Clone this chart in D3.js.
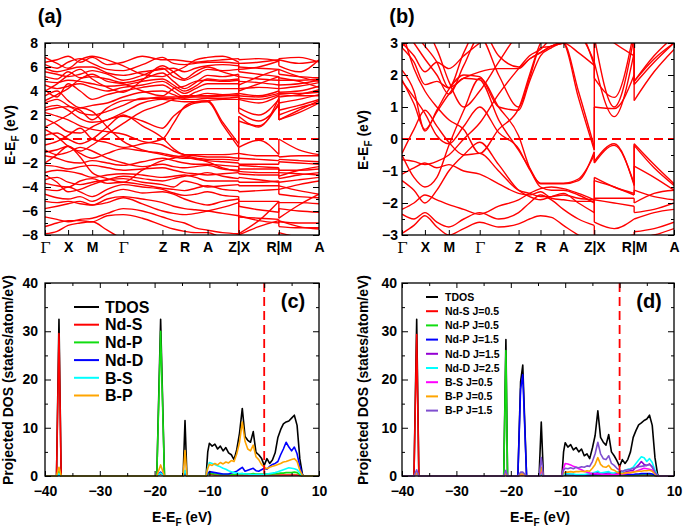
<!DOCTYPE html>
<html>
<head>
<meta charset="utf-8">
<script src="https://cdn.jsdelivr.net/npm/d3@7"></script>
<style>
  body { margin: 0; background: #fff; }
</style>
</head>
<body>
<script>
// ---- band structure: k-path (distance along path) and tick labels ----
const kPath = [0, 12, 23, 35, 47, 62, 78, 97, 117, 128, 139, 150, 162, 177, 193, 193, 213, 233, 233, 253, 273];
const kTickPos = [0, 23, 47, 78, 117, 139, 162, 193, 233, 273];
const kTickLabels = ['Γ', 'X', 'M', 'Γ', 'Z', 'R', 'A', 'Z|X', 'R|M', 'A'];

// energies (eV) of each band at the kPath nodes, panel (a)
const bandsA = [
  [6.4,6.6,6.9,6.4,6.8,6.2,6.4,6.9,6.6,6.6,6.5,6.4,6.5,6.6,6.7, 6.6,6.7,6.5,6.6,6.3,6.5],
  [6.2,5.9,6.4,6.7,6.3,5.8,5.7,6.2,6.8,6.3,6.2,6.3,6.4,6.4,6.3, 6.3,6.4,6.6,6.1,5.6,6.6],
  [5.9,5.6,5.8,6.0,6.0,5.5,5.3,5.6,5.8,5.9,5.6,5.9,6.1,6.2,6.1, 6.0,5.9,5.8,5.4,5.2,5.1],
  [5.6,5.4,5.2,5.4,5.7,5.4,4.9,5.3,5.9,5.2,4.9,5.3,5.8,5.7,5.8, 5.6,5.4,5.2,4.9,4.9,5.0],
  [5.2,5.0,5.6,5.1,5.2,5.0,4.7,5.0,5.5,4.8,4.2,4.7,5.3,5.2,5.4, 5.2,5.0,4.9,4.5,4.6,4.9],
  [4.8,4.7,4.9,4.8,4.6,4.4,4.5,4.8,5.0,4.5,4.0,4.4,5.0,4.9,5.0, 4.8,4.7,4.5,4.2,4.4,4.7],
  [4.5,4.2,4.4,4.6,4.3,4.0,4.3,4.5,4.8,4.3,3.8,4.2,4.6,4.6,4.6, 4.2,4.3,4.2,3.9,4.0,4.4],
  [4.1,3.5,4.6,4.0,3.3,3.7,4.0,4.3,4.5,4.0,3.5,3.9,4.2,4.2,4.2, 3.8,3.6,4.0,3.5,3.7,4.1],
  [3.6,4.0,3.2,2.6,2.8,3.0,3.5,3.9,4.0,3.7,3.4,3.6,3.8,3.7,3.8, 3.3,3.0,3.6,3.0,3.3,3.7],
  [3.0,3.3,2.8,2.2,2.0,2.3,2.8,3.4,3.4,3.4,3.3,3.3,3.4,3.4,3.5, 2.6,2.0,3.3,2.4,2.8,3.3],
  [2.6,2.8,2.4,1.7,1.4,1.6,2.2,3.0,3.3,3.2,3.1,3.1,3.2,3.3,3.3, 2.2,1.5,2.8,1.6,2.2,3.0],
  [6.8,6.3,5.9,6.6,6.9,6.6,6.1,5.4,5.2,5.6,6.0,6.6,6.8,6.9,6.4, 5.8,6.0,6.5,6.7,6.8,6.4],
  [4.0,4.6,5.3,5.8,5.0,4.3,3.9,4.9,6.1,5.6,5.0,5.6,6.0,5.6,5.2, 4.5,5.2,5.8,5.8,5.2,4.8],
  [3.2,3.7,4.2,5.0,5.4,4.8,4.6,4.0,3.6,4.2,4.4,4.8,4.9,4.8,4.9, 4.0,4.6,5.2,5.1,4.8,4.3],
  [2.4,2.6,2.7,2.4,1.6,2.6,3.2,3.3,3.5,3.5,3.6,3.6,3.6,3.6,3.6, 3.4,3.3,3.7,3.7,3.6,3.6],
  [0.8,0.2,-0.6,-1.0,-0.5,0.4,1.3,2.3,2.9,3.3,3.5,3.5,3.5,3.6,3.7, 3.6,3.5,3.8,3.8,3.8,3.9],
  [1.0,1.5,2.0,2.6,2.3,1.0,-0.2,-0.9,-1.3,-1.5,-1.6,-1.6,-1.7,-1.7,-1.8, -1.6,-1.7,-1.8,-1.7,-1.8,-1.9],
  [-0.5,-0.2,0.3,0.9,0.0,-0.3,-0.7,-0.4,0.0,1.3,2.7,3.1,3.2,1.4,-0.4, 1.9,1.0,3.4,1.6,2.4,3.2],
  [0.3,0.5,0.0,-0.4,0.0,1.0,2.0,1.1,0.1,-0.8,-1.3,-1.3,-1.3,-1.3,-1.2, -0.7,-0.1,-1.3,0.0,-0.9,-1.3],
  [1.7,1.2,0.6,0.5,1.0,1.6,1.9,1.5,0.9,1.9,2.6,3.0,3.1,1.2,-0.7, 1.5,1.1,3.0,2.0,2.6,3.0],
  [2.2,1.9,1.6,1.1,0.8,0.6,0.4,-0.2,-0.5,-1.0,-1.3,-1.4,-1.5,-1.5,-1.6, -1.2,-1.4,-1.4,-1.5,-1.4,-1.4],
  [-1.1,-0.9,-0.6,-1.2,-1.6,-1.2,-0.8,-1.0,-1.2,-1.4,-1.5,-1.7,-1.8,-1.9,-2.0, -2.1,-2.1,-2.1,-1.9,-2.0,-2.1],
  [-0.9,-1.3,-1.1,-0.7,-1.0,-1.6,-2.0,-2.3,-2.1,-2.3,-2.4,-2.3,-2.2,-2.5,-2.6, -2.7,-2.8,-2.8,-2.8,-2.9,-3.0],
  [-1.4,-1.6,-1.9,-2.0,-1.8,-2.0,-2.2,-1.9,-1.6,-1.8,-2.0,-2.1,-2.1,-2.2,-2.3, -2.5,-2.5,-2.5,-2.6,-2.6,-2.5],
  [-2.0,-1.3,-0.6,-1.5,-2.8,-3.3,-3.6,-2.6,-1.8,-1.6,-1.4,-1.6,-1.9,-2.4,-2.7, -2.2,-2.3,-2.4,-3.1,-2.6,-2.3],
  [-2.2,-2.3,-2.5,-2.3,-2.2,-2.4,-2.6,-2.5,-2.4,-2.6,-2.8,-2.9,-3.0,-2.9,-2.8, -2.9,-3.0,-3.0,-3.3,-3.0,-2.8],
  [-2.8,-2.6,-2.7,-2.9,-3.2,-3.0,-2.9,-3.0,-3.2,-3.1,-3.0,-3.2,-3.5,-3.5,-3.5, -3.6,-3.6,-3.5,-3.6,-3.4,-3.2],
  [-3.0,-3.6,-4.4,-4.2,-3.8,-3.4,-3.1,-3.3,-3.5,-3.3,-3.1,-3.0,-2.8,-3.1,-3.3, -3.2,-3.4,-3.6,-4.2,-3.8,-3.5],
  [-3.4,-3.2,-3.6,-3.8,-3.6,-3.4,-3.3,-3.6,-3.8,-4.0,-3.5,-3.7,-4.0,-3.9,-3.8, -3.9,-3.9,-3.9,-3.9,-4.3,-4.6],
  [-3.7,-3.9,-4.0,-3.5,-3.3,-3.7,-3.6,-3.8,-4.1,-4.2,-4.3,-4.1,-3.9,-4.2,-4.3, -4.4,-4.3,-4.2,-4.6,-4.8,-4.9],
  [-4.2,-4.3,-4.0,-4.4,-4.8,-4.2,-3.8,-4.0,-4.2,-4.5,-4.7,-4.6,-4.4,-4.7,-4.8, -5.2,-5.2,-5.2,-5.3,-5.3,-5.4],
  [-4.6,-4.9,-5.0,-4.8,-5.2,-4.6,-4.2,-4.5,-4.4,-4.6,-5.0,-5.3,-5.5,-5.2,-5.0, -5.6,-5.9,-6.1,-5.8,-6.0,-6.1],
  [-5.8,-5.6,-5.4,-5.2,-5.5,-5.0,-4.8,-5.0,-5.3,-5.6,-5.8,-5.9,-6.0,-6.2,-6.4, -6.4,-6.8,-7.0,-6.9,-7.0,-7.0],
  [-5.2,-5.3,-5.2,-5.4,-5.5,-5.3,-4.9,-5.4,-6.0,-6.2,-6.3,-6.2,-6.0,-5.7,-5.3, -7.9,-6.8,-5.2,-6.6,-5.5,-4.6],
  [-6.5,-6.7,-6.9,-6.7,-6.6,-6.2,-5.8,-6.0,-6.5,-6.8,-7.0,-7.4,-7.6,-7.8,-7.9, -8.0,-7.3,-6.8,-7.3,-7.4,-7.4],
  [-7.3,-7.0,-6.8,-6.8,-6.9,-6.4,-6.3,-6.6,-7.2,-7.5,-7.7,-7.8,-7.8,-8.2,-8.0, -6.5,-6.6,-6.7,-6.8,-7.3,-7.5],
  [-7.9,-7.7,-7.2,-7.0,-6.9,-7.6,-8.3,-8.5,-8.5,-8.5,-8.5,-8.5,-8.5,-8.5,-8.5, -8.5,-8.5,-8.5,-7.8,-8.2,-8.5]
];

// panel (b), with spin-orbit coupling, zoomed to +-3 eV
const bandsB = [
  [3.0,2.6,2.1,2.4,2.2,2.6,3.0,3.4,3.6,3.5,3.5,3.3,3.2,3.4,3.5, 3.2,3.1,3.2,3.3,3.5,3.6],
  [2.85,2.4,1.7,1.8,1.6,1.9,2.1,2.2,2.2,2.5,2.7,2.9,3.0,2.7,2.3, 3.2,1.0,3.2,1.8,2.5,3.0],
  [2.15,1.5,0.25,0.9,1.55,2.0,1.95,1.0,0.9,1.8,2.6,2.85,3.0,1.5,-0.25, 2.4,0.7,2.7,1.7,2.4,3.0],
  [1.85,1.1,0.3,0.85,1.4,1.9,1.85,0.6,-0.35,-0.9,-1.4,-1.4,-1.4,-1.3,-0.4, -0.7,-0.15,-1.45,-0.15,-0.8,-1.4],
  [1.8,1.3,0.8,0.1,-0.15,0.4,1.0,0.2,-0.3,-0.95,-1.38,-1.38,-1.38,-1.25,-0.5, -0.75,-0.2,-1.4,-0.2,-0.9,-1.45],
  [-0.45,0.3,0.9,0.4,-0.1,-0.5,-0.45,-1.0,-1.6,-1.7,-1.8,-1.8,-1.75,-1.85,-1.9, -1.2,-1.5,-1.7,-0.85,-1.2,-1.6],
  [-0.65,-0.7,-0.8,-0.7,-0.5,0.0,0.5,1.4,2.2,2.6,2.8,3.1,3.0,1.3,-0.35, 1.0,0.95,2.0,1.8,2.6,3.2],
  [-1.1,-0.9,-0.75,-0.9,-0.8,-1.0,-1.1,-1.4,-1.7,-1.75,-1.65,-1.85,-1.9,-1.95,-1.95, -1.85,-1.85,-1.85,-2.0,-1.7,-1.6],
  [-1.3,-1.6,-2.0,-1.6,-1.0,-0.5,-0.1,-0.8,-1.6,-1.8,-1.9,-1.8,-1.7,-2.0,-2.3, -1.3,-1.5,-1.75,-1.6,-1.8,-1.9],
  [-2.2,-2.0,-1.75,-1.9,-2.05,-2.2,-2.35,-2.1,-1.9,-1.7,-1.55,-1.5,-1.55,-1.7,-1.9, -2.6,-2.8,-2.5,-2.5,-2.3,-2.2],
  [-2.35,-2.5,-2.3,-2.6,-2.75,-2.5,-2.3,-2.5,-2.3,-2.0,-1.75,-1.9,-2.2,-2.5,-2.7, -3.2,-3.1,-3.0,-2.9,-2.8,-2.6],
  [-2.95,-2.7,-2.4,-2.75,-3.0,-2.8,-2.6,-2.75,-2.65,-2.5,-2.4,-2.45,-2.7,-3.0,-3.2, -3.5,-3.4,-3.3,-3.1,-3.0,-2.8],
  [3.5,3.0,2.5,2.0,1.4,2.3,3.2,2.0,1.0,1.9,2.85,2.9,3.1,3.3,2.3, 1.9,1.3,3.4,1.2,2.1,2.8],
  [3.6,3.3,2.9,2.4,1.6,2.7,3.5,2.6,2.25,2.5,2.7,2.9,3.0,3.2,2.4, 3.5,3.0,2.6,3.4,3.6,3.8],
  [3.4,2.2,1.5,1.0,0.6,0.3,-0.45,0.3,0.95,2.0,3.0,3.4,3.6,3.6,3.5, 3.4,3.4,3.5,3.3,3.5,3.6],
  [2.9,3.2,3.4,2.8,1.8,1.0,1.5,2.4,3.3,3.6,3.6,3.6,3.6,3.6,3.5, 3.6,3.6,3.6,3.5,3.6,3.7],
  [-0.5,-1.2,-1.5,-1.2,-0.2,0.9,1.9,1.0,0.1,-0.9,-1.5,-1.6,-1.6,-1.75,-2.0, -1.9,-2.0,-2.1,-2.3,-2.2,-2.0]
];

// ---- projected DOS, panel (c): energy grid (eV) and series (states/atom/eV) ----
const energyC = [-40,-37.9,-37.45,-37.05,-19.6,-18.9,-18.2,-14.8,-14.45,-14.1,-10.6,-10.3,
  -10,-9.5,-9,-8.5,-8,-7.5,-7,-6.5,-6,-5.5,-5,-4.5,-4,-3.5,-3,-2.5,-2,-1.5,-1,-0.5,
  0,0.5,1,1.5,2,2.5,3,3.5,4,4.5,5,5.5,6,6.5,7, 7.3,10];
const tdosC = [0,0,32.5,0,0,32.5,0,0,11.5,0,0,5.0,
  6.8,6.2,6.6,5.6,6.2,5.2,5.9,4.8,4.4,3.4,5.5,8.9,14.0,8.2,7.4,7.0,9.2,4.9,4.4,3.7,
  2.2,3.6,2.6,3.3,4.8,8.0,9.6,10.8,11.2,11.4,12.0,12.6,10.5,3.6,0.2, 0,0];
const ndSC = [0,0,29.5,0,0,0.4,0,0,0.3,0,0,0.2,
  0.3,0.3,0.2,0.2,0.2,0.2,0.2,0.2,0.2,0.2,0.2,0.2,0.2,0.2,0.2,0.2,0.2,0.2,0.2,0.2,
  0.2,0.2,0.2,0.2,0.2,0.2,0.2,0.2,0.2,0.2,0.2,0.2,0.2,0.1,0.0, 0,0];
const ndPC = [0,0,1.2,0,0,30,0,0,0.6,0,0,0.3,
  0.6,0.5,0.4,0.4,0.3,0.3,0.3,0.3,0.3,0.3,0.4,0.4,0.5,0.4,0.4,0.4,0.5,0.4,0.4,0.4,
  0.4,0.4,0.4,0.4,0.5,0.5,0.6,0.6,0.7,0.7,0.7,0.8,0.7,0.3,0.0, 0,0];
const ndDC = [0,0,0.3,0,0,0.8,0,0,0.9,0,0,0.5,
  0.9,0.8,0.7,0.6,0.5,0.4,0.4,0.4,0.6,0.8,1.0,1.4,1.8,1.0,1.2,1.4,1.6,1.1,1.0,1.3,
  1.6,1.4,2.0,2.4,2.6,3.0,4.4,5.6,7.0,6.0,5.2,6.0,4.6,2.0,0.1, 0,0];
const bSC = [0,0,0.4,0,0,0.6,0,0,1.2,0,0,1.8,
  2.8,2.6,2.4,2.1,1.9,1.6,1.4,1.1,0.9,0.7,0.6,0.5,0.5,0.4,0.4,0.3,0.3,0.3,0.3,0.3,
  0.4,0.4,0.5,0.6,0.7,0.9,1.1,1.3,1.5,1.7,1.6,1.5,1.3,0.6,0.0, 0,0];
const bPC = [0,0,1.8,0,0,2.3,0,0,5.3,0,0,1.6,
  2.4,2.2,2.6,2.3,2.8,2.5,2.9,2.7,3.2,3.0,4.6,7.0,11.2,7.2,5.6,5.2,6.4,4.0,3.4,2.4,
  1.8,1.5,1.8,2.0,2.2,2.4,2.6,2.9,3.0,3.2,3.4,3.6,3.0,1.2,0.1, 0,0];
const namesC = ['TDOS', 'Nd-S', 'Nd-P', 'Nd-D', 'B-S', 'B-P'];
const colorsC = ['#000000', '#ff0000', '#11dd11', '#0000ff', '#00ffff', '#ffa500'];

// ---- projected DOS, panel (d), j-resolved ----
const energyD = [-40,-37.8,-37.3,-36.9,-21.3,-20.9,-20.6,-18.7,-18.2,-17.8,-17.1,-14.8,-14.4,-14.0,-10.6,-10.3,
  -10,-9.5,-9,-8.5,-8,-7.5,-7,-6.5,-6,-5.5,-5,-4.5,-4,-3.5,-3,-2.5,-2,-1.5,-1,-0.5,
  0,0.5,1,1.5,2,2.5,3,3.5,4,4.5,5,5.5,6,6.5,7, 7.3,10];
const tdosD = [0,0,32.5,0,0,28.3,0,0,19.5,23,0,0,11.2,0,0,5.0,
  6.9,6.0,6.5,5.4,5.9,5.0,5.6,4.2,4.6,3.6,5.8,8.4,13.5,8.0,7.0,6.4,8.6,5.0,4.2,3.2,
  2.0,3.4,2.6,3.4,5.0,8.0,9.4,10.6,11.0,11.5,11.8,12.6,10.5,3.8,0.2, 0,0];
const ndS05D = [0,0,29.3,0,0,0.2,0,0,0.2,0.2,0,0,0.2,0,0,0.2,
  0.2,0.2,0.2,0.2,0.2,0.2,0.2,0.2,0.2,0.2,0.2,0.2,0.2,0.2,0.2,0.2,0.2,0.2,0.2,0.2,
  0.2,0.2,0.2,0.2,0.2,0.2,0.2,0.2,0.2,0.2,0.2,0.2,0.2,0.1,0.0, 0,0];
const ndP05D = [0,0,0.5,0,0,26,0,0,0.3,0.3,0,0,0.3,0,0,0.2,
  0.2,0.2,0.2,0.2,0.1,0.1,0.1,0.1,0.1,0.1,0.2,0.2,0.2,0.2,0.2,0.2,0.2,0.2,0.2,0.2,
  0.2,0.2,0.2,0.2,0.2,0.2,0.2,0.2,0.3,0.3,0.3,0.3,0.2,0.1,0.0, 0,0];
const ndP15D = [0,0,0.5,0,0,0.3,0,0,18,21,0,0,0.4,0,0,0.2,
  0.4,0.3,0.3,0.3,0.2,0.2,0.2,0.2,0.2,0.2,0.3,0.3,0.3,0.3,0.3,0.3,0.3,0.3,0.3,0.3,
  0.3,0.3,0.3,0.3,0.3,0.3,0.4,0.4,0.5,0.5,0.5,0.5,0.4,0.2,0.0, 0,0];
const ndD15D = [0,0,0.3,0,0,0.4,0,0,0.5,0.5,0,0,0.6,0,0,0.3,
  0.4,0.3,0.3,0.2,0.2,0.2,0.2,0.2,0.2,0.3,0.4,0.6,0.8,0.4,0.5,0.6,0.7,0.5,0.4,0.5,
  0.7,0.6,0.8,1.0,1.1,1.2,1.8,2.3,3.0,2.4,2.2,2.5,1.8,0.8,0.0, 0,0];
const ndD25D = [0,0,0.3,0,0,0.3,0,0,0.4,0.4,0,0,0.6,0,0,0.3,
  0.5,0.5,0.4,0.4,0.3,0.3,0.3,0.3,0.4,0.5,0.6,0.8,1.0,0.6,0.7,0.8,0.9,0.6,0.6,0.8,
  0.9,0.8,1.2,1.4,1.5,1.8,2.6,3.3,4.0,3.8,3.0,3.6,2.8,1.2,0.0, 0,0];
const bS05D = [0,0,0.4,0,0,0.4,0,0,0.3,0.3,0,0,1.0,0,0,1.6,
  2.6,2.5,2.3,2.0,1.8,1.5,1.3,1.0,0.8,0.6,0.5,0.5,0.4,0.4,0.3,0.3,0.3,0.3,0.3,0.3,
  0.4,0.4,0.5,0.6,0.7,0.9,1.0,1.2,1.4,1.6,1.5,1.4,1.2,0.5,0.0, 0,0];
const bP05D = [0,0,0.6,0,0,0.5,0,0,0.4,0.4,0,0,1.8,0,0,0.6,
  0.8,0.8,0.9,0.8,0.9,0.9,1.0,0.9,1.1,1.0,1.6,2.4,3.8,2.4,1.9,1.8,2.2,1.4,1.2,0.8,
  0.6,0.5,0.6,0.7,0.7,0.8,0.9,1.0,1.0,1.1,1.1,1.2,1.0,0.4,0.0, 0,0];
const bP15D = [0,0,1.3,0,0,1.2,0,0,0.8,0.8,0,0,3.8,0,0,1.2,
  1.6,1.5,1.7,1.5,1.8,1.7,1.9,1.8,2.1,2.0,3.0,4.6,7.0,4.6,3.6,3.4,4.2,2.6,2.2,1.6,
  1.2,1.0,1.2,1.3,1.4,1.6,1.7,1.9,2.0,2.1,2.2,2.4,2.0,0.8,0.1, 0,0];
const namesD = ['TDOS', 'Nd-S J=0.5', 'Nd-P J=0.5', 'Nd-P J=1.5', 'Nd-D J=1.5', 'Nd-D J=2.5', 'B-S J=0.5', 'B-P J=0.5', 'B-P J=1.5'];
const colorsD = ['#000000', '#ff0000', '#11dd11', '#0000ff', '#9400d3', '#00ffff', '#ff00ff', '#ffa500', '#7f4fcf'];

const dosTicks = [-40, -30, -20, -10, 0, 10];
const dosYTicks = [0, 10, 20, 30, 40];

// ---------------------------------------------------------------
const font = '"Liberation Sans", Arial, Helvetica, sans-serif';
const svg = d3.select('body').append('svg')
  .attr('width', 685)
  .attr('height', 532)
  .style('font-family', font)
  .style('font-weight', 'bold');

// inward ticks on all four sides, like gnuplot
function frame(g, x, y, o) {
  const [xl, xr] = x.range();
  const [yb, yt] = y.range();
  const style = sel => sel
    .attr('font-family', font).attr('font-size', 14).attr('font-weight', 'bold')
    .call(s => s.select('.domain').remove())
    .call(s => s.selectAll('line').attr('stroke', '#000').attr('stroke-width', 1));

  g.append('g').attr('transform', `translate(0,${yb})`)
    .call(d3.axisBottom(x).tickValues(o.xTicks).tickSize(-5).tickPadding(o.xPad).tickFormat(o.xFormat))
    .call(style);
  g.append('g').attr('transform', `translate(0,${yt})`)
    .call(d3.axisTop(x).tickValues(o.xTicks).tickSize(-5).tickFormat(''))
    .call(style);
  g.append('g').attr('transform', `translate(${xl},0)`)
    .call(d3.axisLeft(y).tickValues(o.yTicks).tickSize(-6).tickPadding(o.yPad).tickFormat(d3.format('d')))
    .call(style);
  g.append('g').attr('transform', `translate(${xr},0)`)
    .call(d3.axisRight(y).tickValues(o.yTicks).tickSize(-6).tickFormat(''))
    .call(style);
  if (o.yMinor) {
    g.append('g').attr('transform', `translate(${xl},0)`)
      .call(d3.axisLeft(y).tickValues(o.yMinor).tickSize(-3).tickFormat('')).call(style);
    g.append('g').attr('transform', `translate(${xr},0)`)
      .call(d3.axisRight(y).tickValues(o.yMinor).tickSize(-3).tickFormat('')).call(style);
  }
  if (o.xMinor) {
    g.append('g').attr('transform', `translate(0,${yb})`)
      .call(d3.axisBottom(x).tickValues(o.xMinor).tickSize(-3).tickFormat('')).call(style);
    g.append('g').attr('transform', `translate(0,${yt})`)
      .call(d3.axisTop(x).tickValues(o.xMinor).tickSize(-3).tickFormat('')).call(style);
  }
  g.append('rect')
    .attr('x', xl).attr('y', yt)
    .attr('width', xr - xl).attr('height', yb - yt)
    .attr('fill', 'none').attr('stroke', '#000').attr('stroke-width', 1.3);
}

// E-E_F label with subscript
function efLabel(sel) {
  sel.append('tspan').text('E-E');
  sel.append('tspan').text('F').attr('font-size', 10).attr('dy', 4);
  sel.append('tspan').text(' (eV)').attr('dy', -4);
}

function bandPanel(id, bands, x, y, yTicks, yMinor, yPad) {
  const g = svg.append('g');
  const [xl, xr] = x.range();
  const [yb, yt] = y.range();

  svg.append('clipPath').attr('id', id)
    .append('rect').attr('x', xl).attr('y', yt).attr('width', xr - xl).attr('height', yb - yt);

  const plot = g.append('g').attr('clip-path', `url(#${id})`);
  const line = d3.line()
    .x(i => x(kPath[i]))
    .curve(d3.curveMonotoneX);
  // three path pieces: Γ..Z, X..R, M..A joined by the jumps at Z|X and R|M
  const pieces = [d3.range(0, 15), d3.range(15, 18), d3.range(18, 21)];

  bands.forEach(b => {
    pieces.forEach(p => {
      plot.append('path')
        .attr('d', line.y(i => y(b[i]))(p))
        .attr('fill', 'none')
        .attr('stroke', '#ff0000')
        .attr('stroke-width', 1.4);
    });
    [[14, 15], [17, 18]].forEach(([a, c]) => {
      plot.append('line')
        .attr('x1', x(kPath[a])).attr('x2', x(kPath[c]))
        .attr('y1', y(b[a])).attr('y2', y(b[c]))
        .attr('stroke', '#ff0000').attr('stroke-width', 1.4);
    });
  });

  // Fermi level
  plot.append('line')
    .attr('x1', xl).attr('x2', xr)
    .attr('y1', y(0)).attr('y2', y(0))
    .attr('stroke', '#ff0000').attr('stroke-width', 1.8)
    .attr('stroke-dasharray', '9,5');

  frame(g, x, y, {
    xTicks: kTickPos, xFormat: (d, i) => kTickLabels[i], xPad: 7,
    yTicks: yTicks, yMinor: yMinor, yPad: yPad
  });
  g.selectAll('text').filter(function () { return this.textContent === 'Γ'; })
    .attr('font-family', '"DejaVu Serif", "Liberation Serif", serif')
    .attr('font-weight', 'normal')
    .attr('font-size', 15);
  return g;
}

function dosPanel(energy, series, names, colors, x, y, yPad, legend) {
  const g = svg.append('g');
  const [xl, xr] = x.range();
  const [yb, yt] = y.range();
  const line = d3.line().x((d, i) => x(energy[i])).y(d => y(d));

  series.forEach((s, k) => {
    g.append('path')
      .attr('d', line(s))
      .attr('fill', 'none')
      .attr('stroke', colors[k])
      .attr('stroke-width', 1.6)
      .attr('stroke-linejoin', 'round');
  });

  g.append('line')
    .attr('x1', x(0)).attr('x2', x(0))
    .attr('y1', yt).attr('y2', yb)
    .attr('stroke', '#ff0000').attr('stroke-width', 1.8)
    .attr('stroke-dasharray', '9,5');

  frame(g, x, y, {
    xTicks: dosTicks, xMinor: [-35, -25, -15, -5, 5], xFormat: d3.format('d'), xPad: 10,
    yTicks: dosYTicks, yMinor: [5, 15, 25, 35], yPad: yPad
  });

  // legend
  const lg = g.append('g');
  names.forEach((n, k) => {
    const ly = legend.y + k * legend.dy;
    lg.append('line')
      .attr('x1', legend.x).attr('x2', legend.x + legend.len)
      .attr('y1', ly).attr('y2', ly)
      .attr('stroke', colors[k]).attr('stroke-width', 2);
    lg.append('text')
      .attr('x', legend.x + legend.len + legend.gap).attr('y', ly)
      .attr('dy', '0.36em')
      .attr('font-size', legend.size)
      .text(n);
  });
  return g;
}

// ---- panel (a) ----
const xA = d3.scaleLinear([0, 273], [45, 319]);
const yA = d3.scaleLinear([-8, 8], [235, 43]);
bandPanel('clipA', bandsA, xA, yA, d3.range(-8, 9, 2), d3.range(-7, 8, 2), 7);

// ---- panel (b) ----
const xB = d3.scaleLinear([0, 273], [402, 674]);
const yB = d3.scaleLinear([-3, 3], [235, 43]);
bandPanel('clipB', bandsB, xB, yB, d3.range(-3, 4, 1), d3.range(-2.5, 3, 1), 4);

// ---- panel (c) ----
const xC = d3.scaleLinear([-40, 10], [45, 319]);
const yC = d3.scaleLinear([0, 40], [476, 283]);
dosPanel(energyC, [tdosC, ndSC, ndPC, ndDC, bSC, bPC], namesC, colorsC, xC, yC, 7,
  { x: 74, y: 307, dy: 17.7, len: 25, gap: 6, size: 16 });

// ---- panel (d) ----
const xD = d3.scaleLinear([-40, 10], [402, 674]);
const yD = d3.scaleLinear([0, 40], [476, 283]);
dosPanel(energyD, [tdosD, ndS05D, ndP05D, ndP15D, ndD15D, ndD25D, bS05D, bP05D, bP15D], namesD, colorsD, xD, yD, 5,
  { x: 426, y: 297, dy: 14.2, len: 12, gap: 7, size: 10.5 });

// ---- axis titles ----
svg.append('text').attr('transform', 'translate(15,135) rotate(-90)')
  .attr('text-anchor', 'middle').attr('font-size', 14).call(efLabel);
svg.append('text').attr('transform', 'translate(368,140) rotate(-90)')
  .attr('text-anchor', 'middle').attr('font-size', 14).call(efLabel);
svg.append('text').attr('transform', 'translate(13,380) rotate(-90)')
  .attr('text-anchor', 'middle').attr('font-size', 14).text('Projected DOS (states/atom/eV)');
svg.append('text').attr('transform', 'translate(368,380) rotate(-90)')
  .attr('text-anchor', 'middle').attr('font-size', 14).text('Projected DOS (states/atom/eV)');
svg.append('text').attr('x', 182).attr('y', 522)
  .attr('text-anchor', 'middle').attr('font-size', 14).call(efLabel);
svg.append('text').attr('x', 540).attr('y', 522)
  .attr('text-anchor', 'middle').attr('font-size', 14).call(efLabel);

// ---- panel letters ----
const panelLabels = [['(a)', 50, 23], ['(b)', 402, 23], ['(c)', 293, 308], ['(d)', 649, 308]];
panelLabels.forEach(([t, px, py]) => {
  svg.append('text').attr('x', px).attr('y', py)
    .attr('text-anchor', 'middle').attr('font-size', 20).text(t);
});
</script>
</body>
</html>
